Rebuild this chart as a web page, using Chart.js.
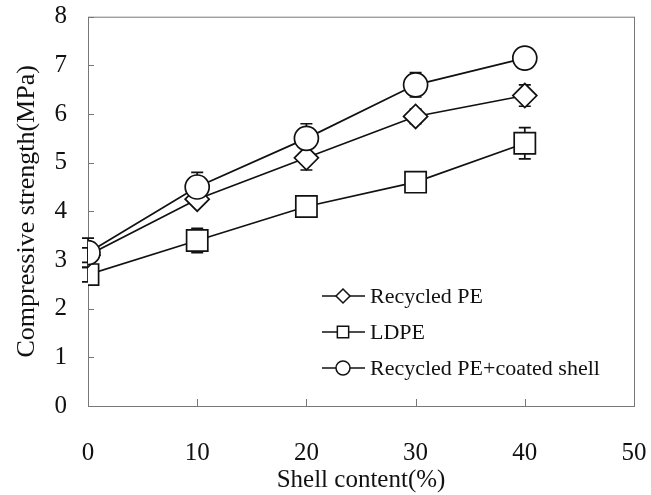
<!DOCTYPE html>
<html>
<head>
<meta charset="utf-8">
<script src="https://cdn.jsdelivr.net/npm/chart.js@4"></script>
<style>
    html, body { margin: 0; padding: 0; background: #fff; }
    #wrap { width: 651px; height: 495px; }
</style>
</head>
<body>
<div id="wrap"><canvas id="strengthChart"></canvas></div>
<script>
// Data
const shellContent = [0, 10, 20, 30, 40];
const xTicks = [0, 10, 20, 30, 40, 50];
const yTicks = [0, 1, 2, 3, 4, 5, 6, 7, 8];

const recycledPE = [3.1, 4.25, 5.1, 5.95, 6.38];
const recycledPEErr = [0.15, 0.1, 0.25, 0.15, 0.22];

const ldpe = [2.7, 3.4, 4.1, 4.6, 5.4];
const ldpeErr = [0.15, 0.25, 0.1, 0.2, 0.32];

const coatedShell = [3.15, 4.5, 5.5, 6.6, 7.15];
const coatedShellErr = [0.3, 0.3, 0.3, 0.25, 0];

const legendLabels = ['Recycled PE', 'LDPE', 'Recycled PE+coated shell'];

const serif = '"Liberation Serif", "Times New Roman", serif';

function toPoints(ys) {
    return shellContent.map((x, i) => ({ x: x, y: ys[i] }));
}

// Frame + inward tick marks
const framePlugin = {
    id: 'frame',
    beforeDatasetsDraw(chart) {
        const { ctx, chartArea: a, scales } = chart;
        ctx.save();
        ctx.strokeStyle = '#777';
        ctx.lineWidth = 1;
        ctx.strokeRect(a.left + 0.5, a.top + 0.5, a.right - a.left, a.bottom - a.top);
        ctx.beginPath();
        yTicks.forEach(v => {
            const y = Math.round(scales.y.getPixelForValue(v)) + 0.5;
            ctx.moveTo(a.left, y);
            ctx.lineTo(a.left + 6, y);
        });
        xTicks.forEach(v => {
            const x = Math.round(scales.x.getPixelForValue(v)) + 0.5;
            ctx.moveTo(x, a.bottom);
            ctx.lineTo(x, a.bottom - 7);
        });
        ctx.stroke();
        ctx.restore();
    }
};

// Error bars drawn under the markers
const errorBarPlugin = {
    id: 'errorBars',
    beforeDatasetsDraw(chart) {
        const { ctx, scales } = chart;
        ctx.save();
        ctx.strokeStyle = '#111';
        ctx.lineWidth = 1.7;
        chart.data.datasets.forEach(ds => {
            if (!ds.errors) return;
            ds.data.forEach((p, i) => {
                const e = ds.errors[i];
                if (!e) return;
                const x = scales.x.getPixelForValue(p.x);
                const yHi = scales.y.getPixelForValue(p.y + e);
                const yLo = scales.y.getPixelForValue(p.y - e);
                ctx.beginPath();
                ctx.moveTo(x, yHi);
                ctx.lineTo(x, yLo);
                ctx.moveTo(x - 6, yHi);
                ctx.lineTo(x + 6, yHi);
                ctx.moveTo(x - 6, yLo);
                ctx.lineTo(x + 6, yLo);
                ctx.stroke();
            });
        });
        ctx.restore();
    }
};

// Legend inside the plot: line - marker - line, then label
const legendPlugin = {
    id: 'innerLegend',
    afterDraw(chart) {
        const { ctx } = chart;
        const styles = [
            { pointStyle: 'rectRot', radius: 7 },
            { pointStyle: 'rect', radius: 8 },
            { pointStyle: 'circle', radius: 7 }
        ];
        const x1 = 322, x2 = 365, xm = 343, xt = 370;
        const rows = [296, 332, 368];
        ctx.save();
        ctx.font = '22px ' + serif;
        ctx.textBaseline = 'middle';
        legendLabels.forEach((label, i) => {
            const y = rows[i];
            ctx.strokeStyle = '#111';
            ctx.lineWidth = 1.5;
            ctx.beginPath();
            ctx.moveTo(x1, y);
            ctx.lineTo(x2, y);
            ctx.stroke();
            ctx.fillStyle = '#fff';
            Chart.helpers.drawPoint(ctx, {
                pointStyle: styles[i].pointStyle,
                radius: styles[i].radius,
                rotation: 0,
                borderWidth: 1.5
            }, xm, y);
            ctx.fillStyle = '#111';
            ctx.fillText(label, xt, y + 1);
        });
        ctx.restore();
    }
};

const baseSeries = {
    borderColor: '#111',
    backgroundColor: '#fff',
    pointBackgroundColor: '#fff',
    pointBorderColor: '#111',
    borderWidth: 1.7,
    pointBorderWidth: 1.7,
    tension: 0,
    fill: false
};

new Chart(document.getElementById('strengthChart'), {
    type: 'line',
    data: {
        datasets: [
            Object.assign({}, baseSeries, {
                label: legendLabels[2],
                data: toPoints(coatedShell),
                errors: coatedShellErr,
                pointStyle: 'circle',
                pointRadius: 12
            }),
            Object.assign({}, baseSeries, {
                label: legendLabels[0],
                data: toPoints(recycledPE),
                errors: recycledPEErr,
                pointStyle: 'rectRot',
                pointRadius: 12
            }),
            Object.assign({}, baseSeries, {
                label: legendLabels[1],
                data: toPoints(ldpe),
                errors: ldpeErr,
                pointStyle: 'rect',
                pointRadius: 15
            })
        ]
    },
    options: {
        responsive: true,
        maintainAspectRatio: false,
        animation: false,
        layout: { padding: { top: 15, right: 17, bottom: 0, left: 12 } },
        plugins: {
            legend: { display: false },
            tooltip: { enabled: false }
        },
        scales: {
            x: {
                type: 'linear',
                min: 0,
                max: 50,
                afterBuildTicks: s => { s.ticks = xTicks.map(v => ({ value: v })); },
                grid: { display: false, drawTicks: false },
                border: { display: false },
                ticks: { color: '#111', padding: 32, font: { family: serif, size: 25 } },
                title: {
                    display: true,
                    text: 'Shell content(%)',
                    color: '#111',
                    padding: { top: 0, bottom: 0 },
                    font: { family: serif, size: 25 }
                },
                afterFit: s => {
                    s.height = 89;
                    s.paddingLeft = 0;
                    s.paddingRight = 0;
                }
            },
            y: {
                min: 0,
                max: 8,
                afterBuildTicks: s => { s.ticks = yTicks.map(v => ({ value: v })); },
                grid: { display: false, drawTicks: false },
                border: { display: false },
                ticks: { color: '#111', padding: 21, font: { family: serif, size: 25 } },
                title: {
                    display: true,
                    text: 'Compressive strength(MPa)',
                    color: '#111',
                    padding: { top: 0, bottom: 0 },
                    font: { family: serif, size: 26 }
                },
                afterFit: s => {
                    s.width = 76;
                    s.paddingTop = 0;
                    s.paddingBottom = 0;
                }
            }
        }
    },
    plugins: [framePlugin, errorBarPlugin, legendPlugin]
});
</script>
</body>
</html>
